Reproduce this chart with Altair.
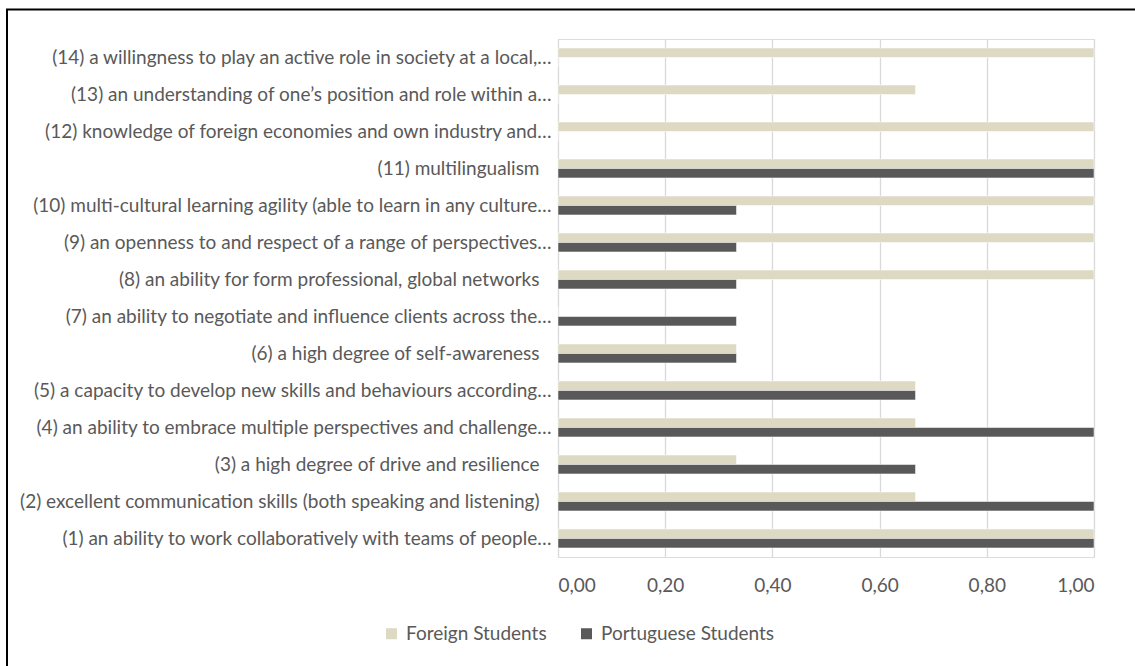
import altair as alt
import pandas as pd

categories = [
    "(1) an ability to work collaboratively with teams of people…",
    "(2) excellent communication skills (both speaking and listening)",
    "(3) a high degree of drive and resilience",
    "(4) an ability to embrace multiple perspectives and challenge…",
    "(5) a capacity to develop new skills and behaviours according…",
    "(6) a high degree of self-awareness",
    "(7) an ability to negotiate and influence clients across the…",
    "(8) an ability for form professional, global networks",
    "(9) an openness to and respect of a range of perspectives…",
    "(10) multi-cultural learning agility (able to learn in any culture…",
    "(11) multilingualism",
    "(12) knowledge of foreign economies and own industry and…",
    "(13) an understanding of one’s position and role within a…",
    "(14) a willingness to play an active role in society at a local,…",
]
foreign = [1.0, 0.667, 0.333, 0.667, 0.667, 0.333, 0.0, 1.0, 1.0, 1.0, 1.0, 1.0, 0.667, 1.0]
portuguese = [1.0, 1.0, 0.667, 1.0, 0.667, 0.333, 0.333, 0.333, 0.333, 0.333, 1.0, 0.0, 0.0, 0.0]
series = ["Foreign Students", "Portuguese Students"]
colors = ["#DDD9C3", "#595959"]
ticks = [0, 0.2, 0.4, 0.6, 0.8, 1.0]

rows = []
for c, f, p in zip(categories, foreign, portuguese):
    rows.append({"cat": c, "series": series[0], "value": f})
    rows.append({"cat": c, "series": series[1], "value": p})
df = pd.DataFrame(rows)

TXT = "#595959"
FONT = "Lato"

# labels that were not truncated (no ellipsis) sit a little further from the axis
label_pad = {"condition": {"test": "!test(/…$/, datum.label)", "value": 19}, "value": 7}

bars = alt.Chart(df).mark_bar(stroke="white", strokeWidth=0.5).encode(
    y=alt.Y("cat:N", sort=list(reversed(categories)), title=None,
            scale=alt.Scale(paddingInner=0.49, paddingOuter=0.245),
            axis=alt.Axis(labelLimit=700, labelFontSize=19, labelColor=TXT, labelFont=FONT,
                          ticks=False, domain=False, labelPadding=label_pad, grid=False)),
    yOffset=alt.YOffset("series:N", sort=series, scale=alt.Scale(paddingInner=0, paddingOuter=0)),
    x=alt.X("value:Q", stack=None, title=None,
            scale=alt.Scale(domain=[0, 1], nice=False),
            axis=alt.Axis(values=ticks, labelExpr="replace(format(datum.value, '.2f'), '.', ',')",
                          labelFontSize=19, labelColor=TXT, labelFont=FONT, ticks=False, domain=False,
                          labelPadding=19, grid=True, gridColor="#D9D9D9", gridWidth=1.3)),
    color=alt.Color("series:N", sort=series, scale=alt.Scale(domain=series, range=colors),
                    legend=alt.Legend(title=None, orient="none", legendX=-176, legendY=585,
                                      direction="horizontal", symbolType="square", symbolSize=121,
                                      symbolStrokeWidth=0, labelFontSize=19, labelColor=TXT,
                                      labelFont=FONT, columnPadding=30, labelOffset=5, padding=0,
                                      labelLimit=400)),
)

frame = alt.Chart(alt.Data(values=[{"k": 1}])).mark_rect(
    fill=None, stroke="black", strokeWidth=2
).encode(
    x=alt.value(-551), x2=alt.value(1000), y=alt.value(-29.5), y2=alt.value(1000)
)

chart = alt.layer(bars, frame).properties(
    width=536, height=518,
    autosize=alt.AutoSizeParams(type="none"),
    padding={"left": 558, "top": 39, "right": 41, "bottom": 109},
).configure_view(stroke=None).configure(background="white")

chart.save("out.html", embed_options={"renderer": "svg", "actions": False})
